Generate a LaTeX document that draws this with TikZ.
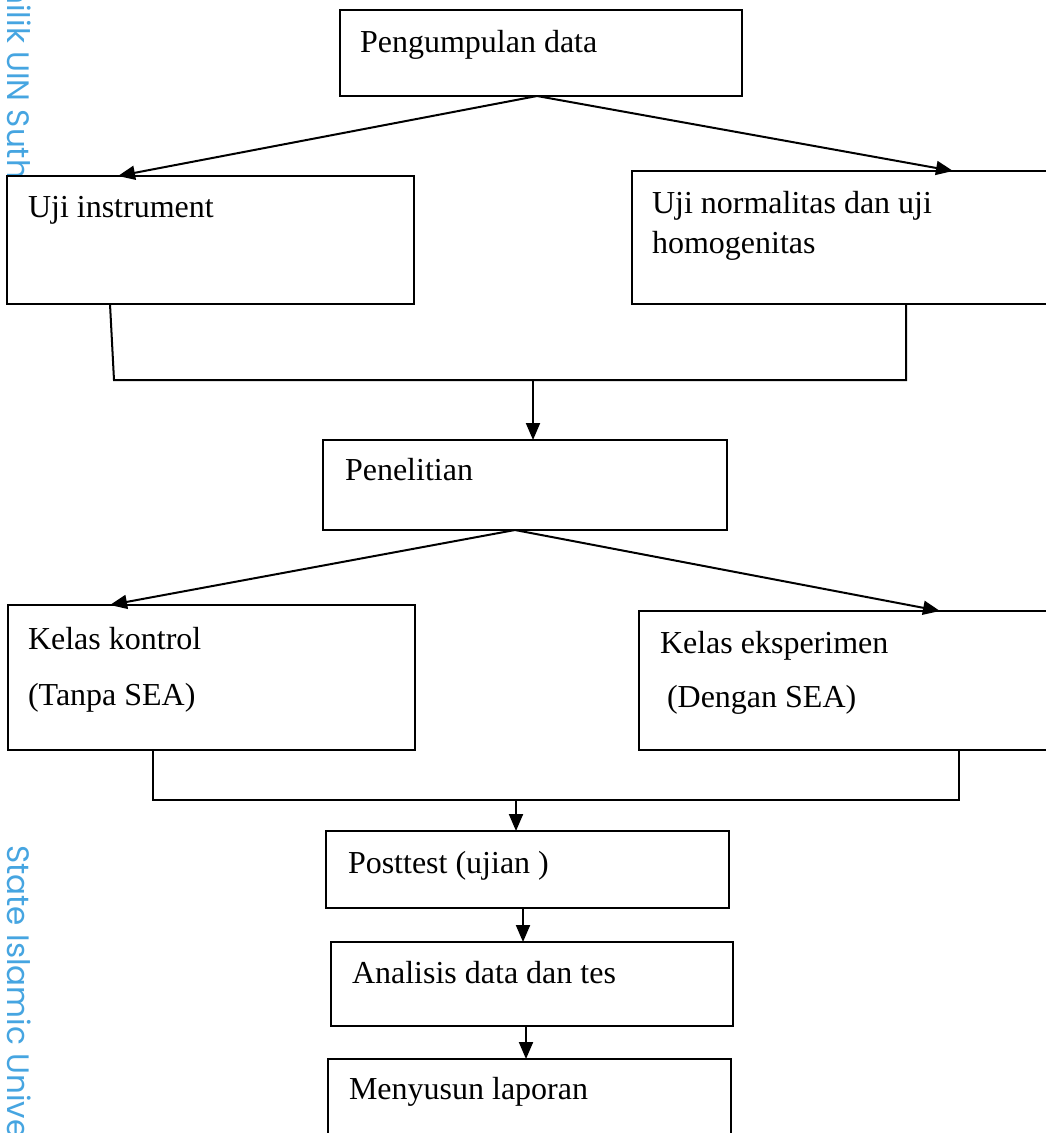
\documentclass[tikz,border=0pt]{standalone}
\usepackage{fontspec}
\setmainfont{Liberation Serif}
\newfontfamily\wmfont{Poppins}
\usetikzlibrary{arrows.meta,calc}
\definecolor{wmblue}{RGB}{70,165,225}
\tikzset{
  box/.style={draw, line width=2.2pt, fill=white, inner sep=0pt, outer sep=0pt, anchor=north west},
  lbl/.style={inner sep=0pt, outer sep=0pt, anchor=base west, font=\fontsize{32}{40}\selectfont},
  conn/.style={line width=2pt},
  arr/.style={line width=2pt, -{Triangle[length=17pt,width=14pt]}},
  wm/.style={inner sep=0pt, anchor=base west, rotate=-90, text=wmblue, font=\wmfont\fontsize{31}{34}\selectfont}
}
\begin{document}
\begin{tikzpicture}[x=1pt,y=-1pt]
\useasboundingbox (0,0) rectangle (1046,1133);
\clip (0,0) rectangle (1046,1133);
\fill[white] (0,0) rectangle (1046,1133);
% watermark
\node[wm] (wm1) at (8,-28) {milik UIN Sutha Jambi};
\node[wm] (wm2) at (8,845) {State Islamic University of Sulthan Thaha Saifuddin Jambi};
% boxes
\node[box, minimum width=402pt, minimum height=86pt] (b1) at (340,10) {};
\node[lbl] (b1t) at (360,52) {Pengumpulan data};
\node[box, minimum width=407pt, minimum height=128pt] (b2) at (7,176) {};
\node[lbl] (b2t) at (28,217) {Uji instrument};
\node[box, minimum width=440pt, minimum height=133pt] (b3) at (632,171) {};
\node[lbl] (b3t) at (652,213) {Uji normalitas dan uji};
\node[lbl] (b3u) at (652,253) {homogenitas};
\node[box, minimum width=404pt, minimum height=90pt] (b4) at (323,440) {};
\node[lbl] (b4t) at (345,480) {Penelitian};
\node[box, minimum width=407pt, minimum height=145pt] (b5) at (8,605) {};
\node[lbl] (b5t) at (28,649) {Kelas kontrol};
\node[lbl] (b5u) at (28,705) {(Tanpa SEA)};
\node[box, minimum width=440pt, minimum height=139pt] (b6) at (639,611) {};
\node[lbl] (b6t) at (660,653) {Kelas eksperimen};
\node[lbl] (b6u) at (667,707) {(Dengan SEA)};
\node[box, minimum width=403pt, minimum height=77pt] (b7) at (326,831) {};
\node[lbl] (b7t) at (348,873) {Posttest (ujian )};
\node[box, minimum width=402pt, minimum height=84pt] (b8) at (331,942) {};
\node[lbl] (b8t) at (352,983) {Analisis data dan tes};
\node[box, minimum width=403pt, minimum height=100pt] (b9) at (328,1059) {};
\node[lbl] (b9t) at (349,1099) {Menyusun laporan};
% connector points
\coordinate (s1) at ($(b1.south west)+(197,0)$);
\coordinate (t2) at ($(b2.north west)+(111,0)$);
\coordinate (t3) at ($(b3.north west)+(321,0)$);
\coordinate (s2) at ($(b2.south west)+(103,0)$);
\coordinate (s3) at ($(b3.south west)+(274,0)$);
\coordinate (j1l) at (114,380);
\coordinate (j1r) at (906,380);
\coordinate (j1) at ($(b4.north west)+(210,-60)$);
\coordinate (t4) at ($(b4.north west)+(210,0)$);
\coordinate (s4) at ($(b4.south west)+(192,0)$);
\coordinate (t5) at ($(b5.north west)+(102,0)$);
\coordinate (t6) at ($(b6.north west)+(301,0)$);
\coordinate (s5) at ($(b5.south west)+(145,0)$);
\coordinate (s6) at ($(b6.south west)+(320,0)$);
\coordinate (j2) at ($(b7.north west)+(190,-31)$);
\coordinate (t7) at ($(b7.north west)+(190,0)$);
\coordinate (s7) at ($(b7.south west)+(197,0)$);
\coordinate (t8) at ($(b8.north west)+(192,0)$);
\coordinate (s8) at ($(b8.south west)+(195,0)$);
\coordinate (t9) at ($(b9.north west)+(198,0)$);
% connectors
\draw[arr] (s1) -- (t2);
\draw[arr] (s1) -- (t3);
\draw[conn] (s2) -- (j1l) -- (j1r) -- (s3);
\draw[arr] (j1) -- (t4);
\draw[arr] (s4) -- (t5);
\draw[arr] (s4) -- (t6);
\draw[conn] (s5) |- (s6 |- j2) -- (s6);
\draw[arr] (j2) -- (t7);
\draw[arr] (s7) -- (t8);
\draw[arr] (s8) -- (t9);
\end{tikzpicture}
\end{document}
